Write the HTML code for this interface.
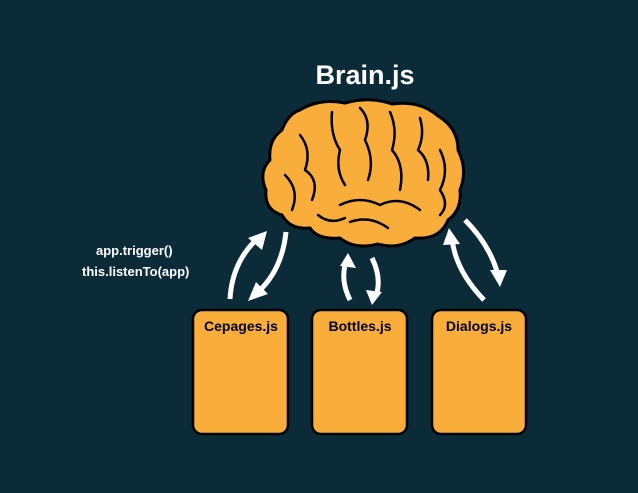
<!DOCTYPE html>
<html><head><style>
html,body{margin:0;padding:0;background:#0b2b38;}
svg{display:block}
</style></head><body>
<svg width="638" height="493" viewBox="0 0 638 493" xmlns="http://www.w3.org/2000/svg">
<rect width="638" height="493" fill="#0b2b38"/>
<text x="365" y="84" text-anchor="middle" font-family="Liberation Sans, sans-serif" font-weight="bold" font-size="27" fill="#fff">Brain.js</text>
<!-- brain -->
<g stroke="#000" stroke-width="3" stroke-linejoin="round" stroke-linecap="round">
<path d="M300,110 Q320,98 345,103 Q370,96 392,104 Q420,100 438,116 Q458,128 458,150 Q468,170 460,190 Q462,210 448,220 Q440,240 415,238 Q398,250 378,244 Q355,250 340,238 Q318,240 310,228 Q290,230 282,215 Q264,210 266,190 Q258,172 270,160 Q268,140 282,130 Q288,114 300,110 Z" fill="#f9ad3a"/>
<g fill="none" stroke-width="2.5">
<path d="M332,112 Q330,135 340,150 Q335,170 345,185"/>
<path d="M360,108 Q372,120 365,140 Q375,160 368,180"/>
<path d="M390,112 Q398,130 392,150 Q405,165 400,190"/>
<path d="M420,118 Q425,135 418,150 Q430,160 428,180"/>
<path d="M300,135 Q312,150 305,170 Q320,180 312,200"/>
<path d="M285,175 Q300,190 292,210"/>
<path d="M340,205 Q360,195 380,205 Q400,195 420,210"/>
<path d="M350,222 Q370,215 388,228"/>
<path d="M440,150 Q450,170 440,190 Q450,205 440,215"/>
<path d="M318,215 Q330,225 345,218"/>
</g>
</g>
<!-- boxes -->
<g fill="#f9ad3a" stroke="#000" stroke-width="2.5">
<rect x="193" y="310" width="95" height="124" rx="9"/>
<rect x="312" y="310" width="95" height="124" rx="9"/>
<rect x="432" y="310" width="94" height="124" rx="9"/>
</g>
<g font-family="Liberation Sans, sans-serif" font-weight="bold" font-size="14" fill="#000" text-anchor="middle">
<text x="241" y="331">Cepages.js</text>
<text x="360" y="331">Bottles.js</text>
<text x="479" y="331">Dialogs.js</text>
</g>
<g font-family="Liberation Sans, sans-serif" font-weight="bold" font-size="13" fill="#fff">
<text x="96" y="255">app.trigger()</text>
<text x="82" y="276">this.listenTo(app)</text>
</g>
<!-- arrows -->
<g stroke="#fff" stroke-width="5" fill="none" stroke-linecap="butt">
<path d="M230,299 Q232,262 258,238"/>
<path d="M286,232 Q282,270 258,292"/>
<path d="M350,300 Q340,280 346,262"/>
<path d="M372,258 Q382,278 376,296"/>
<path d="M484,300 Q455,270 452,238"/>
<path d="M465,220 Q490,245 498,275"/>
</g>
<g fill="#fff">
<polygon points="267,231 262,250 248,238"/>
<polygon points="248,301 256,282 268,294"/>
<polygon points="348,253 356,268 340,266"/>
<polygon points="372,305 366,290 382,292"/>
<polygon points="449,228 460,244 443,245"/>
<polygon points="500,287 490,270 507,270"/>
</g>
</svg>
</body></html>
